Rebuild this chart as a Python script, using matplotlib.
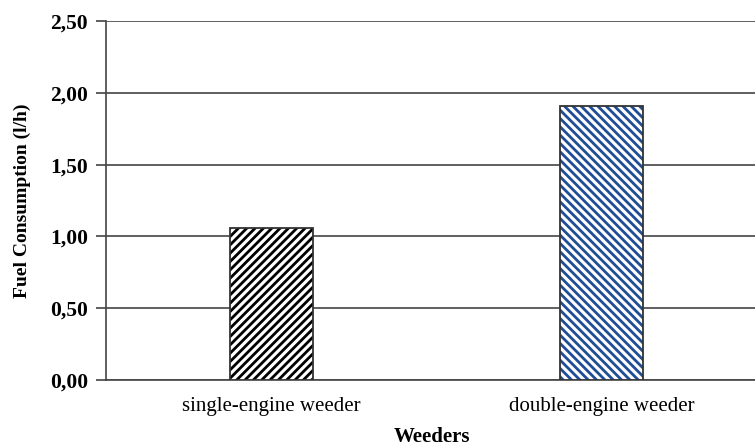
import numpy as np
import matplotlib
matplotlib.use("Agg")
import matplotlib.pyplot as plt

# veriler
weeders = ["single-engine weeder", "double-engine weeder"]
fuel = [1.06, 1.91]
hatches = ["////", "\\\\\\\\"]
hatch_colors = ["black", "#1f4e96"]
yticks = [0.0, 0.5, 1.0, 1.5, 2.0, 2.5]
ytick_labels = ["0,00", "0,50", "1,00", "1,50", "2,00", "2,50"]

plt.rcParams["font.family"] = ["Liberation Serif", "DejaVu Serif"]
plt.rcParams["hatch.linewidth"] = 2.0

fig = plt.figure(figsize=(7.55, 4.46), dpi=100)
ax = fig.add_axes([0.1404, 0.148, 0.8755, 0.8049])

x = np.arange(len(weeders))
# tarama (renkli) ve üstüne çerçeve
for xi, v, h, c in zip(x, fuel, hatches, hatch_colors):
    ax.bar(xi, v, width=0.25, color="white", edgecolor=c, linewidth=0,
           hatch=h, zorder=3)
ax.bar(x, fuel, width=0.25, color="none", edgecolor="#333333",
       linewidth=1.3, zorder=4)

ax.set_xlim(-0.5, 1.5)
ax.set_ylim(0, 2.5)
ax.set_yticks(yticks)
ax.set_yticklabels(ytick_labels, fontweight="bold", fontsize=15.5)
ax.set_xticks(x)
ax.set_xticklabels(weeders, fontsize=15)
ax.tick_params(axis="x", length=0, pad=12)
ax.tick_params(axis="y", length=7, width=1.2, color="#444444", pad=6)

ax.grid(axis="y", color="#444444", linewidth=1.2, zorder=0)
for s in ["top", "right"]:
    ax.spines[s].set_visible(False)
ax.spines["left"].set_color("#444444")
ax.spines["left"].set_linewidth(1.2)
ax.spines["bottom"].set_color("#444444")
ax.spines["bottom"].set_linewidth(1.2)

ax.set_xlabel("Weeders", fontweight="bold", fontsize=15)
ax.xaxis.set_label_coords((432 - 106) / 661, -0.13)
ax.set_ylabel("Fuel Consumption (l/h)", fontweight="bold", fontsize=14)
ax.yaxis.set_label_coords(-(106 - 31) / 661, 0.5)

plt.savefig("out.png", dpi=100)
